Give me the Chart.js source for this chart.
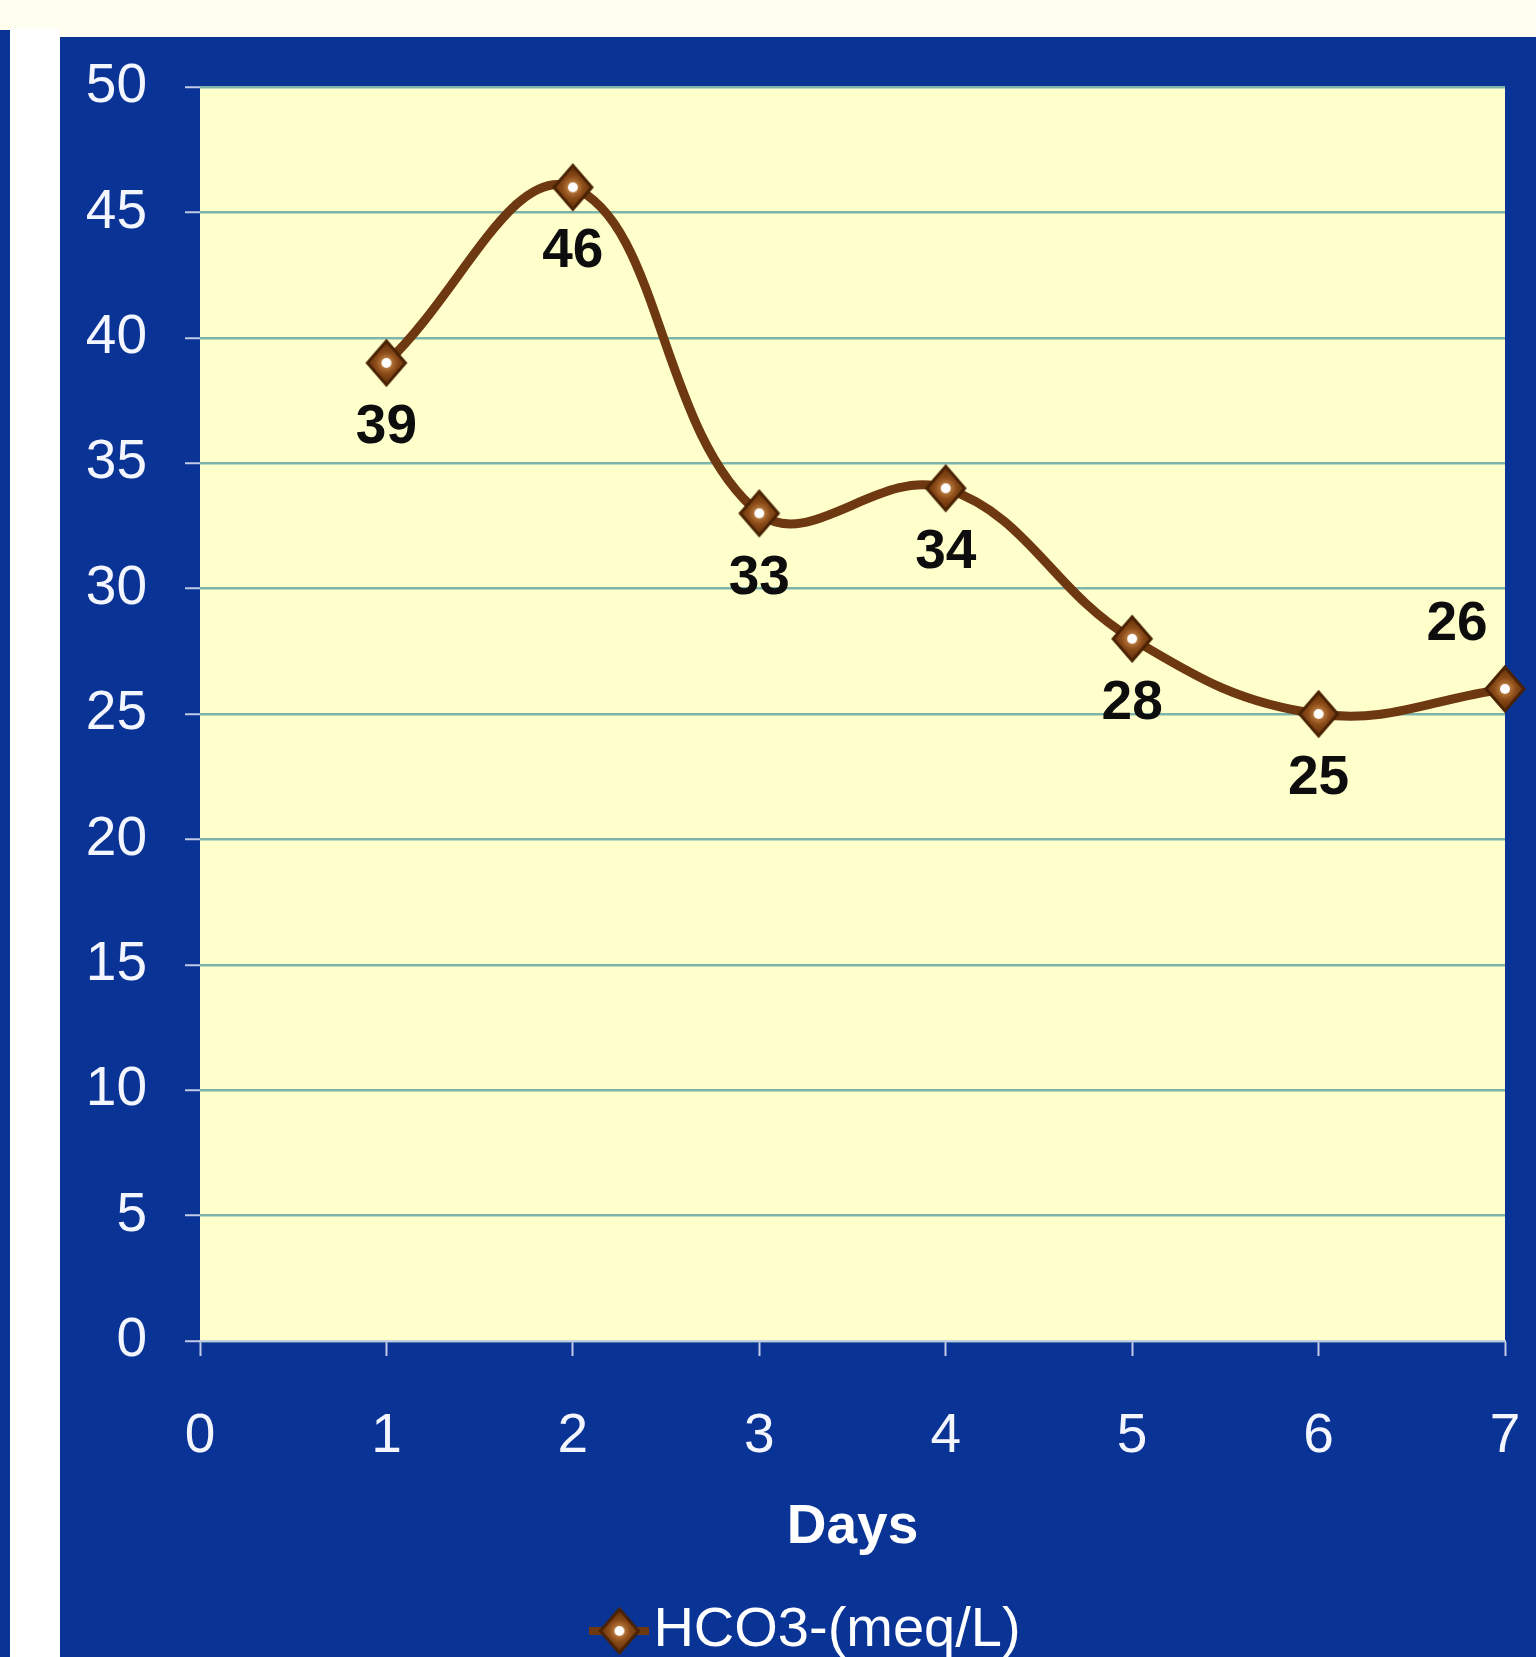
<!DOCTYPE html>
<html>
<head>
<meta charset="utf-8">
<title>HCO3- by day</title>
<script src="https://cdn.jsdelivr.net/npm/chart.js@4/dist/chart.umd.min.js"></script>
<style>
  html, body { margin: 0; padding: 0; width: 1536px; height: 1657px; overflow: hidden; background: #fffff0; }
  #strip { position: absolute; left: 0; top: 30px; width: 10px; height: 1627px; background: #0a3396; }
  #gap { position: absolute; left: 10px; top: 28px; width: 50px; height: 1629px; background: #ffffff; }
  #panel { position: absolute; left: 60px; top: 37px; width: 1476px; height: 1620px; background: #0a3396; }
  #chart { position: absolute; left: 0; top: 0; }
</style>
</head>
<body>
<div id="strip"></div>
<div id="gap"></div>
<div id="panel"></div>
<canvas id="chart" width="1605" height="1669"></canvas>
<script>
// Serum bicarbonate readings per day
const days = [1, 2, 3, 4, 5, 6, 7];
const hco3 = [39, 46, 33, 34, 28, 25, 26];
const seriesName = 'HCO3-(meq/L)';
const xAxisTitle = 'Days';
const xTickValues = [0, 1, 2, 3, 4, 5, 6, 7];
const yTickValues = [0, 5, 10, 15, 20, 25, 30, 35, 40, 45, 50];

const FONT = '"Liberation Sans", Arial, sans-serif';
const LINE_BROWN = '#6e3810';

// Diamond marker with a white centre (optionally crossed by the series line for the legend)
function makeMarker(withLine) {
  const w = withLine ? 60 : 46, h = 50;
  const c = document.createElement('canvas');
  c.width = w; c.height = h;
  const g = c.getContext('2d');
  const cx = w / 2, cy = h / 2, rx = 19, ry = 22;
  if (withLine) {
    g.strokeStyle = LINE_BROWN; g.lineWidth = 8;
    g.beginPath(); g.moveTo(0, cy); g.lineTo(w, cy); g.stroke();
  }
  g.beginPath();
  g.moveTo(cx - rx, cy); g.lineTo(cx, cy - ry); g.lineTo(cx + rx, cy); g.lineTo(cx, cy + ry);
  g.closePath();
  const grad = g.createRadialGradient(cx, cy, 2, cx, cy, ry);
  grad.addColorStop(0, '#c98a4a');
  grad.addColorStop(0.45, '#8a4a18');
  grad.addColorStop(1, '#5e2c06');
  g.fillStyle = grad; g.fill();
  g.lineWidth = 3; g.strokeStyle = '#4a2204'; g.stroke();
  g.beginPath(); g.arc(cx, cy, 5, 0, Math.PI * 2);
  g.fillStyle = '#ffffff'; g.fill();
  return c;
}
const pointMarker = makeMarker(false);
const legendMarker = makeMarker(true);

// Cream plot background
const plotBackground = {
  id: 'plotBackground',
  beforeDraw(chart) {
    const { ctx, chartArea: a } = chart;
    ctx.save();
    ctx.fillStyle = '#ffffcc';
    ctx.fillRect(a.left, a.top, a.right - a.left, a.bottom - a.top);
    ctx.restore();
  }
};

// Value labels under each point; the last one sits above-left at the right edge
const valueLabels = {
  id: 'valueLabels',
  afterDatasetsDraw(chart) {
    const { ctx } = chart;
    const meta = chart.getDatasetMeta(0);
    const data = chart.data.datasets[0].data;
    ctx.save();
    ctx.font = 'bold 55px ' + FONT;
    ctx.fillStyle = '#0d0d0d';
    ctx.textAlign = 'center';
    ctx.textBaseline = 'middle';
    meta.data.forEach((pt, i) => {
      const last = i === meta.data.length - 1;
      const x = pt.x + (last ? -48 : 0);
      const y = pt.y + (last ? -64 : 65);
      ctx.fillText(String(data[i].y), x, y);
    });
    ctx.restore();
  }
};

const tickColor = '#c2cbe6';

new Chart(document.getElementById('chart'), {
  type: 'line',
  data: {
    datasets: [{
      label: seriesName,
      data: days.map((d, i) => ({ x: d, y: hco3[i] })),
      borderColor: LINE_BROWN,
      backgroundColor: LINE_BROWN,
      borderWidth: 9,
      tension: 0.4,
      pointStyle: pointMarker,
      pointRadius: 20,
      clip: false
    }]
  },
  options: {
    responsive: false,
    animation: false,
    events: [],
    layout: { padding: { left: 60, top: 87, right: 31, bottom: 0 } },
    plugins: {
      tooltip: { enabled: false },
      legend: {
        position: 'bottom',
        labels: {
          usePointStyle: true,
          pointStyleWidth: 12,
          padding: 10,
          color: '#ffffff',
          font: { family: FONT, size: 56 },
          generateLabels(chart) {
            const items = Chart.defaults.plugins.legend.labels.generateLabels(chart);
            items.forEach(it => { it.pointStyle = legendMarker; });
            return items;
          }
        }
      }
    },
    scales: {
      x: {
        type: 'linear',
        min: 0, max: 7,
        afterBuildTicks(scale) { scale.ticks = xTickValues.map(v => ({ value: v })); },
        afterFit(scale) { scale.height = 252; },
        grid: { drawOnChartArea: false, drawTicks: true, tickLength: 15, tickColor: tickColor, tickWidth: 2 },
        border: { color: tickColor, width: 2 },
        ticks: { color: '#f4f6ff', padding: 48, font: { family: FONT, size: 55 } },
        title: { display: true, text: xAxisTitle, color: '#ffffff', font: { family: FONT, size: 55, weight: 'bold' }, padding: { top: 0, bottom: 32 } }
      },
      y: {
        min: 0, max: 50,
        afterBuildTicks(scale) { scale.ticks = yTickValues.map(v => ({ value: v })); },
        afterFit(scale) { scale.width = 140; },
        grid: { color: '#7fb5a8', lineWidth: 2.5, tickLength: 15, tickColor: tickColor, tickWidth: 2 },
        border: { display: false },
        ticks: { color: '#f4f6ff', padding: 38, font: { family: FONT, size: 55 } }
      },
      // empty right-hand gutter that keeps the legend centred under the panel
      gutter: {
        axis: 'y',
        position: 'right',
        min: 0, max: 50,
        afterFit(scale) { scale.width = 69; },
        grid: { display: false },
        border: { display: false },
        ticks: { display: false }
      }
    }
  },
  plugins: [plotBackground, valueLabels]
});
</script>
</body>
</html>
